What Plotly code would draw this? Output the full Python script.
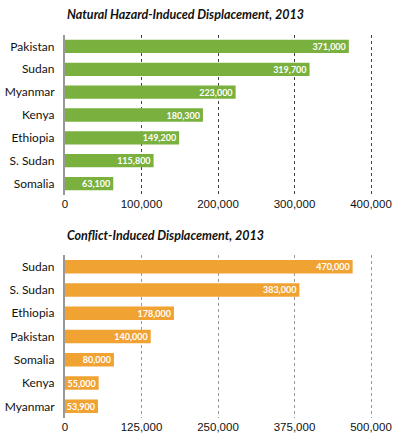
import plotly.graph_objects as go

# natural hazard-induced displacement, 2013
nat_countries = ['Pakistan', 'Sudan', 'Myanmar', 'Kenya', 'Ethiopia', 'S. Sudan', 'Somalia']
nat_values = [371000, 319700, 223000, 180300, 149200, 115800, 63100]

# conflict-induced displacement, 2013
con_countries = ['Sudan', 'S. Sudan', 'Ethiopia', 'Pakistan', 'Somalia', 'Kenya', 'Myanmar']
con_values = [470000, 383000, 178000, 140000, 80000, 55000, 53900]

nat_ticks = [0, 100000, 200000, 300000, 400000]
con_ticks = [0, 125000, 250000, 375000, 500000]

green = '#7AB03E'
orange = '#F0A232'
font = 'Lato'
tick_font = dict(size=11.5, family='Liberation Sans', color='#111')

fig = go.Figure()

fig.add_trace(go.Bar(
    x=nat_values, y=nat_countries, orientation='h',
    marker=dict(color=green, line=dict(width=0)),
    text=[f'{v:,}' for v in nat_values],
    textposition='inside', insidetextanchor='end', constraintext='none',
    textfont=dict(color='white', size=9, family=font, weight='bold'),
    width=0.58, xaxis='x', yaxis='y',
))

fig.add_trace(go.Bar(
    x=con_values, y=con_countries, orientation='h',
    marker=dict(color=orange, line=dict(width=0)),
    text=[f'{v:,}' for v in con_values],
    textposition='inside', insidetextanchor='end', constraintext='none',
    textfont=dict(color='white', size=9, family=font, weight='bold'),
    width=0.58, xaxis='x2', yaxis='y2',
))

# plot area runs a few px past the last tick so its gridline is still drawn
x0, x_last, x1 = 65, 371, 375
xdom = [x0 / 400, x1 / 400]
stretch = (x1 - x0) / (x_last - x0)

fig.update_layout(
    width=400, height=442,
    margin=dict(l=0, r=0, t=0, b=0, autoexpand=False),
    paper_bgcolor='white', plot_bgcolor='white',
    showlegend=False,
    uniformtext=dict(minsize=8, mode='show'),
    font=dict(family=font, size=12, color='#111'),
    xaxis=dict(domain=xdom, range=[0, nat_ticks[-1] * stretch], tickvals=nat_ticks,
               tickformat=',', showgrid=True, gridcolor='#444', griddash='dot',
               gridwidth=1, zeroline=False, showline=False, anchor='y',
               automargin=False, tickfont=tick_font, ticks=''),
    yaxis=dict(domain=[1 - 195 / 442, 1 - 35 / 442], autorange='reversed',
               showline=True, linecolor='#999', linewidth=2, anchor='x',
               showgrid=False, ticks='', ticksuffix='  ', automargin=False,
               tickfont=dict(size=12, family=font)),
    xaxis2=dict(domain=xdom, range=[0, con_ticks[-1] * stretch], tickvals=con_ticks,
                tickformat=',', showgrid=True, gridcolor='#999', griddash='dot',
                gridwidth=1, zeroline=False, showline=False, anchor='y2',
                automargin=False, tickfont=tick_font, ticks=''),
    yaxis2=dict(domain=[1 - 418 / 442, 1 - 255 / 442], autorange='reversed',
                showline=True, linecolor='#999', linewidth=2, anchor='x2',
                showgrid=False, ticks='', ticksuffix='  ', automargin=False,
                tickfont=dict(size=12, family=font)),
    annotations=[
        dict(text='<b><i>Natural Hazard-Induced Displacement, 2013</i></b>',
             x=65 / 400, y=1 - 14 / 442, xref='paper', yref='paper',
             xanchor='left', yanchor='middle', showarrow=False,
             font=dict(size=12.5, family=font, color='#111')),
        dict(text='<b><i>Conflict-Induced Displacement, 2013</i></b>',
             x=65 / 400, y=1 - 235 / 442, xref='paper', yref='paper',
             xanchor='left', yanchor='middle', showarrow=False,
             font=dict(size=12.5, family=font, color='#111')),
    ],
)

# drop the default page margin so the figure sits at the window corner
fig.write_html('out.html', config={'displayModeBar': False},
               post_script="document.body.style.margin='0px';")
